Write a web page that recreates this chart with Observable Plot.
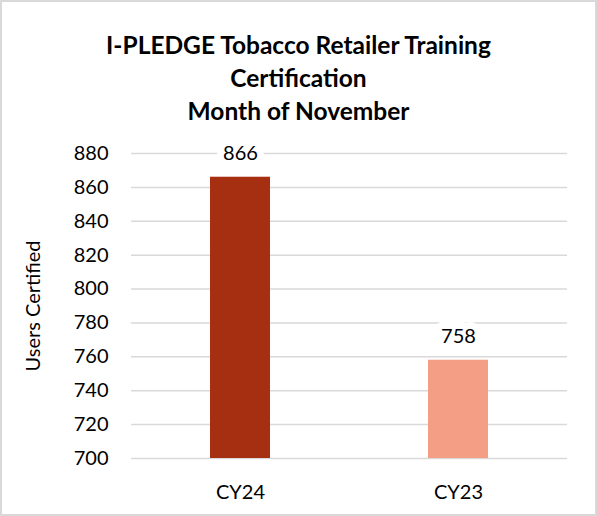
<!DOCTYPE html>
<html>
<head>
<meta charset="utf-8">
<script src="https://cdn.jsdelivr.net/npm/d3@7"></script>
<script src="https://cdn.jsdelivr.net/npm/@observablehq/plot@0.6"></script>
<style>
  html, body { margin: 0; padding: 0; background: #fff; }
  #chart { position: relative; width: 597px; height: 516px; overflow: hidden; font-family: Lato, "Open Sans", sans-serif; }
  #frame { position: absolute; left: 0; top: 0; width: 597px; height: 516px; box-sizing: border-box; border: 2px solid #d9d9d9; pointer-events: none; }
  #title { position: absolute; left: 0; top: 28px; width: 597px; text-align: center; font-weight: bold; font-size: 24.5px; line-height: 33px; color: #000; }
  #plot { position: absolute; left: 0; top: 130px; }
</style>
</head>
<body>
<div id="chart">
  <div id="title">I-PLEDGE Tobacco Retailer Training<br>Certification<br>Month of November</div>
  <div id="plot"></div>
  <div id="frame"></div>
</div>
<script>
const categories = ["CY24", "CY23"];
const values = [866, 758];
const barColors = ["#A52F10", "#F39E85"];
const yTicks = [700, 720, 740, 760, 780, 800, 820, 840, 860, 880];
const yLabel = "Users Certified";

const data = categories.map((c, i) => ({category: c, value: values[i]}));

const chart = Plot.plot({
  width: 597,
  height: 386,
  marginTop: 23,
  marginBottom: 58,
  marginLeft: 131,
  marginRight: 30,
  style: {fontFamily: "Lato, 'Open Sans', sans-serif", fontSize: "20px", color: "#000", background: "transparent"},
  x: {domain: categories, paddingInner: 0.7248, paddingOuter: 0.3624, label: null},
  y: {domain: [700, 880], label: null},
  color: {domain: categories, range: barColors},
  marks: [
    Plot.gridY(yTicks, {stroke: "#d9d9d9", strokeOpacity: 1, strokeWidth: 1.5}),
    Plot.barY(data, {x: "category", y1: 700, y2: "value", fill: "category"}),
    Plot.text(data, {x: "category", y: "value", text: d => String(d.value), dy: -24, fill: "#000", stroke: "white", strokeWidth: 14, fontSize: 20}),
    Plot.axisY(yTicks, {tickSize: 0, tickPadding: 23, fontSize: 20, label: null, fill: "#000"}),
    Plot.axisX({tickSize: 0, tickPadding: 26, fontSize: 20, label: null, fill: "#000"}),
    Plot.text([yLabel], {frameAnchor: "left", dx: -98, rotate: -90, textAnchor: "middle", text: d => d, fontSize: 20, fill: "#000"})
  ]
});
document.getElementById("plot").appendChild(chart);
</script>
</body>
</html>
